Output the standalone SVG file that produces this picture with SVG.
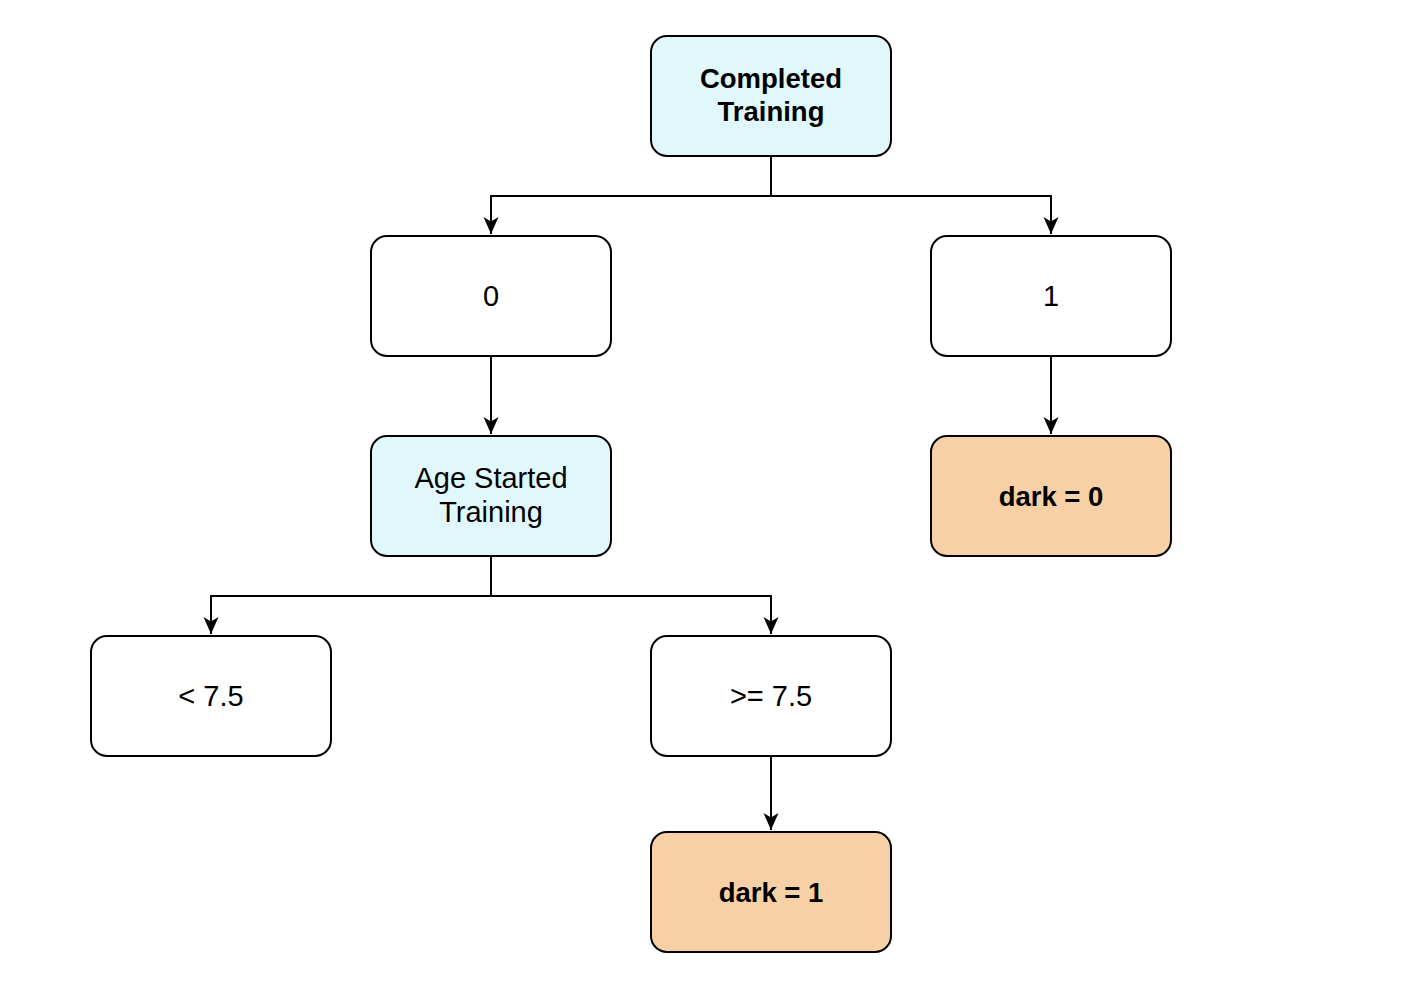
<svg xmlns="http://www.w3.org/2000/svg" width="1402" height="1002" viewBox="0 0 1402 1002">
<style>
.box{stroke:#000;stroke-width:2;}
.plain{fill:#fff;}
.blue{fill:#E0F8FC;}
.orange{fill:#F8D0A5;}
.t{font-family:"Liberation Sans",Arial,sans-serif;font-size:29px;fill:#000;text-anchor:middle;}
.b{font-family:"Liberation Sans",Arial,sans-serif;font-size:27.5px;font-weight:bold;fill:#000;text-anchor:middle;}
.edge{fill:none;stroke:#000;stroke-width:2;}
</style>
<defs>
<marker id="arr" markerUnits="userSpaceOnUse" markerWidth="18" markerHeight="18" viewBox="0 0 18 18" refX="17" refY="9" orient="auto">
<path d="M0,1.5 L17,9 L0,16.5 L4.5,9 Z" fill="#000"/>
</marker>
</defs>
<rect width="1402" height="1002" fill="#fff"/>
<g id="connectors">
<path class="edge" d="M771,156 V196 H491 V234" marker-end="url(#arr)"/>
<path class="edge" d="M771,156 V196 H1051 V234" marker-end="url(#arr)"/>
<path class="edge" d="M491,356 V434" marker-end="url(#arr)"/>
<path class="edge" d="M1051,356 V434" marker-end="url(#arr)"/>
<path class="edge" d="M491,556 V596 H211 V634" marker-end="url(#arr)"/>
<path class="edge" d="M491,556 V596 H771 V634" marker-end="url(#arr)"/>
<path class="edge" d="M771,756 V830" marker-end="url(#arr)"/>
</g>
<g id="completed">
<rect class="box blue" x="651" y="36" width="240" height="120" rx="16"/>
<text class="b" x="771" y="88">Completed</text>
<text class="b" x="771" y="121">Training</text>
</g>
<g id="n0">
<rect class="box plain" x="371" y="236" width="240" height="120" rx="16"/>
<text class="t" x="491" y="306">0</text>
</g>
<g id="n1">
<rect class="box plain" x="931" y="236" width="240" height="120" rx="16"/>
<text class="t" x="1051" y="306">1</text>
</g>
<g id="age">
<rect class="box blue" x="371" y="436" width="240" height="120" rx="16"/>
<text class="t" x="491" y="488">Age Started</text>
<text class="t" x="491" y="522">Training</text>
</g>
<g id="dark0">
<rect class="box orange" x="931" y="436" width="240" height="120" rx="16"/>
<text class="b" x="1051" y="506">dark = 0</text>
</g>
<g id="lt">
<rect class="box plain" x="91" y="636" width="240" height="120" rx="16"/>
<text class="t" x="211" y="706">&lt; 7.5</text>
</g>
<g id="ge">
<rect class="box plain" x="651" y="636" width="240" height="120" rx="16"/>
<text class="t" x="771" y="706">&gt;= 7.5</text>
</g>
<g id="dark1">
<rect class="box orange" x="651" y="832" width="240" height="120" rx="16"/>
<text class="b" x="771" y="902">dark = 1</text>
</g>
</svg>
